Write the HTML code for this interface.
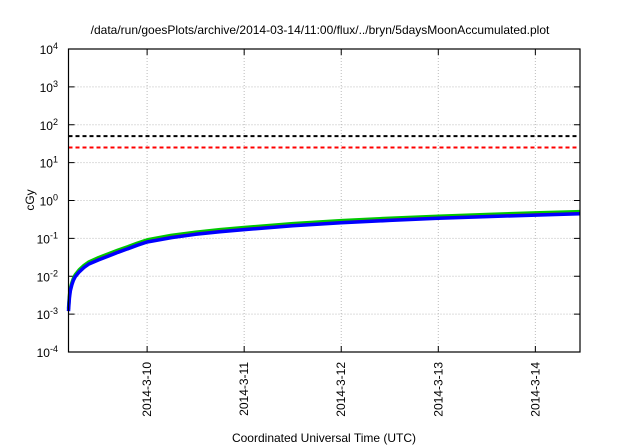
<!DOCTYPE html>
<html><head><meta charset="utf-8"><style>
body{margin:0;background:#fff;}
svg{display:block;font-family:"Liberation Sans",sans-serif;}
</style></head><body>
<svg id="c" width="640" height="448"></svg>
<script>
const days=[-0.81,-0.805,-0.80,-0.79,-0.775,-0.76,-0.74,-0.7,-0.65,-0.6,-0.5,-0.4,-0.3,-0.2,-0.1,0,0.25,0.5,0.75,1,1.5,2,2.5,3,3.5,4,4.46];
const blue=[0.0012,0.0019,0.0028,0.0042,0.006,0.0078,0.0098,0.013,0.017,0.021,0.027,0.034,0.043,0.053,0.066,0.08,0.105,0.128,0.15,0.17,0.215,0.258,0.298,0.338,0.375,0.412,0.445];
const green=[0.0014,0.0022,0.0032,0.0048,0.0068,0.0088,0.011,0.0148,0.0193,0.0238,0.031,0.039,0.049,0.06,0.075,0.091,0.12,0.146,0.171,0.194,0.245,0.294,0.34,0.386,0.428,0.47,0.51];
const red=[0.0013,0.002,0.003,0.0045,0.0064,0.0083,0.0104,0.0139,0.018,0.0224,0.029,0.0365,0.046,0.0565,0.07,0.085,0.112,0.136,0.16,0.181,0.229,0.275,0.318,0.36,0.4,0.44,0.475];
const thresholds=[50,25];
const xTicks=["2014-3-10","2014-3-11","2014-3-12","2014-3-13","2014-3-14"];
const yExp=[-4,-3,-2,-1,0,1,2,3,4];
const L=68.5,R=580,T=49,B=352,x0=-0.81,x1=4.46;
const X=d=>L+(d-x0)/(x1-x0)*(R-L);
const Y=v=>B-(Math.log10(v)+4)/8*(B-T);
const svg=document.getElementById('c');const NS='http://www.w3.org/2000/svg';
function mk(t,a,p){const e=document.createElementNS(NS,t);for(const k in a)e.setAttribute(k,a[k]);(p||svg).appendChild(e);return e;}
let e;
e=mk('text',{x:320,y:34,'text-anchor':'middle','font-size':12});e.textContent='/data/run/goesPlots/archive/2014-03-14/11:00/flux/../bryn/5daysMoonAccumulated.plot';

yExp.forEach(p=>{const y=Y(Math.pow(10,p));
 if(p>-4&&p<4){e=mk('line',{x1:L,x2:R,y1:y,y2:y,stroke:'#bbb','stroke-dasharray':'1,2'});
 mk('line',{x1:L,x2:L+6,y1:y,y2:y,stroke:'#000'});mk('line',{x1:R-6,x2:R,y1:y,y2:y,stroke:'#000'});}
 e=mk('text',{x:58,y:y+5,'text-anchor':'end','font-size':12});
 e.innerHTML='10<tspan dy="-5" font-size="9">'+p+'</tspan>';});
xTicks.forEach((t,i)=>{const x=X(i);
 e=mk('line',{x1:x,x2:x,y1:T,y2:B,stroke:'#bbb','stroke-dasharray':'1,2'});
 mk('line',{x1:x,x2:x,y1:B-6,y2:B,stroke:'#000'});mk('line',{x1:x,x2:x,y1:T,y2:T+6,stroke:'#000'});
 e=mk('text',{x:0,y:0,'text-anchor':'end','font-size':12,transform:`translate(${x+4},${B+10}) rotate(-90)`});e.textContent=t;
 });
const tc=['#000','#f00'];
thresholds.forEach((v,i)=>{e=mk('line',{x1:L,x2:R,y1:Y(v),y2:Y(v),stroke:tc[i],'stroke-width':2,'stroke-dasharray':'4,3'});
 });
function line(vals,col,w,name){const d=vals.map((v,i)=>(i?'L':'M')+X(days[i]).toFixed(1)+','+Y(v).toFixed(1)).join('');
 const p=mk('path',{d,fill:'none',stroke:col,'stroke-width':w,'stroke-linejoin':'round'});}
line(green,'#00c800',3.5,'series-green');line(red,'#f00',1.5,'series-red');line(blue,'#0000ff',3.5,'series-blue');
e=mk('rect',{x:L,y:T,width:R-L,height:B-T,fill:'none',stroke:'#000','stroke-width':1.2});
e=mk('text',{x:0,y:0,'text-anchor':'middle','font-size':12,transform:'translate(34,200) rotate(-90)'});e.textContent='cGy';

e=mk('text',{x:324,y:442,'text-anchor':'middle','font-size':12});e.textContent='Coordinated Universal Time (UTC)';

</script>
</body></html>
